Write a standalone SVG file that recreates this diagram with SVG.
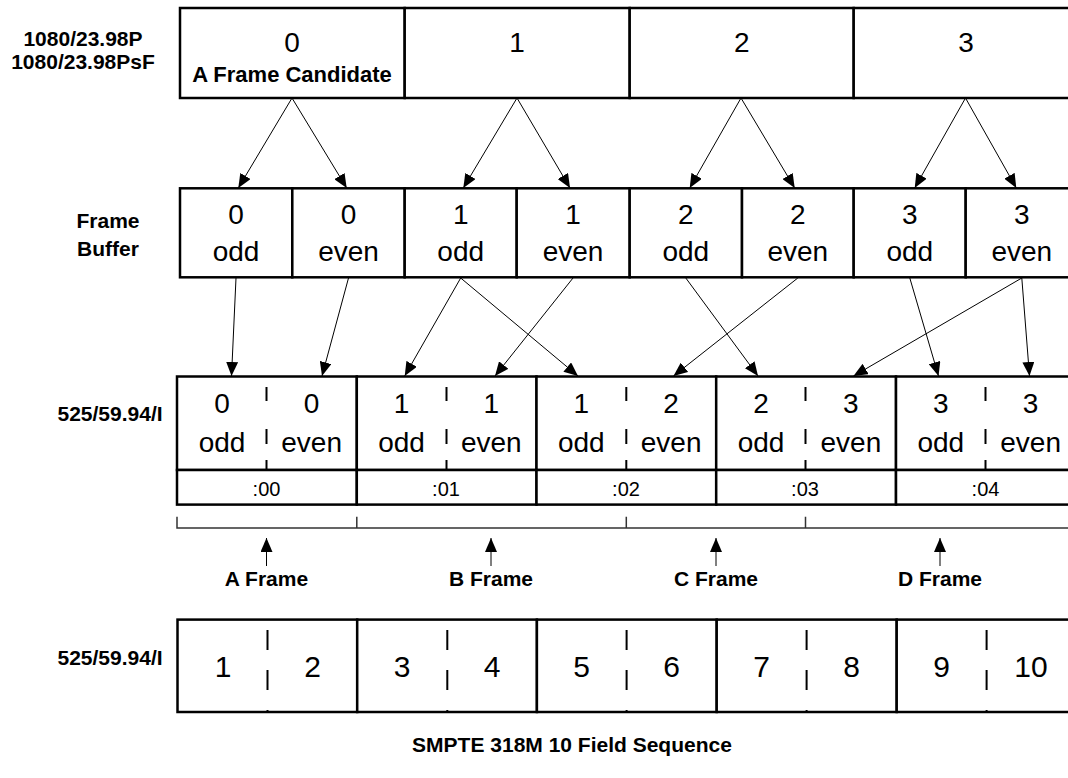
<svg xmlns="http://www.w3.org/2000/svg" width="1068" height="778" viewBox="0 0 1068 778">
<style>
text{font-family:"Liberation Sans",Arial,sans-serif;fill:#000}
.lbl{font-weight:bold;font-size:21px;text-anchor:middle}
.big{font-size:28px;text-anchor:middle}
.num{font-size:30px;text-anchor:middle}
.tc{font-size:20px;text-anchor:middle}
.cand{font-weight:bold;font-size:22px;text-anchor:middle}
.box{fill:#fff;stroke:#000;stroke-width:2.5}
.dash{stroke:#000;stroke-width:2;fill:none}
.conn{stroke:#000;stroke-width:1;fill:none;marker-end:url(#ah)}
.br{stroke:#333;stroke-width:1.5;fill:none}
</style>
<defs>
<marker id="ah" markerUnits="userSpaceOnUse" markerWidth="14" markerHeight="12" viewBox="0 0 14 12" refX="14" refY="6" orient="auto">
<path d="M0,0 L14,6 L0,12 Z" fill="#000"/>
</marker>
</defs>
<rect width="1068" height="778" fill="#fff"/>

<g id="labels">
<text class="lbl" x="83" y="46">1080/23.98P</text>
<text class="lbl" x="83" y="69">1080/23.98PsF</text>
<text class="lbl" x="108" y="228">Frame</text>
<text class="lbl" x="108" y="256">Buffer</text>
<text class="lbl" x="110" y="421">525/59.94/I</text>
<text class="lbl" x="110" y="665">525/59.94/I</text>
</g>

<g id="top-row">
<g id="t0"><rect class="box" x="180" y="8" width="224.7" height="90"/><text class="big" x="292" y="52">0</text><text class="cand" x="292" y="81.5">A Frame Candidate</text></g>
<g id="t1"><rect class="box" x="404.7" y="8" width="225" height="90"/><text class="big" x="517" y="52">1</text></g>
<g id="t2"><rect class="box" x="629.7" y="8" width="224" height="90"/><text class="big" x="741.7" y="52">2</text></g>
<g id="t3"><rect class="box" x="853.7" y="8" width="224" height="90"/><text class="big" x="966" y="52">3</text></g>
</g>

<g id="frame-buffer">
<g id="fb0o"><rect class="box" x="180" y="188.3" width="112.3" height="89"/><text class="big" x="236" y="224">0</text><text class="big" x="236" y="260.5">odd</text></g>
<g id="fb0e"><rect class="box" x="292.3" y="188.3" width="112.4" height="89"/><text class="big" x="348.5" y="224">0</text><text class="big" x="348.5" y="260.5">even</text></g>
<g id="fb1o"><rect class="box" x="404.7" y="188.3" width="112" height="89"/><text class="big" x="460.7" y="224">1</text><text class="big" x="460.7" y="260.5">odd</text></g>
<g id="fb1e"><rect class="box" x="516.7" y="188.3" width="113" height="89"/><text class="big" x="573" y="224">1</text><text class="big" x="573" y="260.5">even</text></g>
<g id="fb2o"><rect class="box" x="629.7" y="188.3" width="112.3" height="89"/><text class="big" x="685.8" y="224">2</text><text class="big" x="685.8" y="260.5">odd</text></g>
<g id="fb2e"><rect class="box" x="742" y="188.3" width="111.7" height="89"/><text class="big" x="797.8" y="224">2</text><text class="big" x="797.8" y="260.5">even</text></g>
<g id="fb3o"><rect class="box" x="853.7" y="188.3" width="112" height="89"/><text class="big" x="909.8" y="224">3</text><text class="big" x="909.8" y="260.5">odd</text></g>
<g id="fb3e"><rect class="box" x="965.7" y="188.3" width="112.3" height="89"/><text class="big" x="1021.8" y="224">3</text><text class="big" x="1021.8" y="260.5">even</text></g>
</g>

<g id="ntsc-row">
<g id="n0"><rect class="box" x="177" y="376.5" width="179.8" height="93.5"/><rect class="box" x="177" y="470" width="179.8" height="34.6"/>
<line class="dash" x1="266.5" y1="387" x2="266.5" y2="401"/><line class="dash" x1="266.5" y1="429" x2="266.5" y2="444"/><line class="dash" x1="266.5" y1="460" x2="266.5" y2="470"/>
<text class="big" x="222" y="413.4">0</text><text class="big" x="222" y="452.3">odd</text><text class="big" x="311.6" y="413.4">0</text><text class="big" x="311.6" y="452.3">even</text><text class="tc" x="266.5" y="496">:00</text></g>
<g id="n1"><rect class="box" x="356.8" y="376.5" width="179.7" height="93.5"/><rect class="box" x="356.8" y="470" width="179.7" height="34.6"/>
<line class="dash" x1="446.5" y1="387" x2="446.5" y2="401"/><line class="dash" x1="446.5" y1="429" x2="446.5" y2="444"/><line class="dash" x1="446.5" y1="460" x2="446.5" y2="470"/>
<text class="big" x="401.5" y="413.4">1</text><text class="big" x="401.5" y="452.3">odd</text><text class="big" x="491.3" y="413.4">1</text><text class="big" x="491.3" y="452.3">even</text><text class="tc" x="446" y="496">:01</text></g>
<g id="n2"><rect class="box" x="536.5" y="376.5" width="179.7" height="93.5"/><rect class="box" x="536.5" y="470" width="179.7" height="34.6"/>
<line class="dash" x1="626.3" y1="387" x2="626.3" y2="401"/><line class="dash" x1="626.3" y1="429" x2="626.3" y2="444"/><line class="dash" x1="626.3" y1="460" x2="626.3" y2="470"/>
<text class="big" x="581.3" y="413.4">1</text><text class="big" x="581.3" y="452.3">odd</text><text class="big" x="671.1" y="413.4">2</text><text class="big" x="671.1" y="452.3">even</text><text class="tc" x="626" y="496">:02</text></g>
<g id="n3"><rect class="box" x="716.2" y="376.5" width="179.8" height="93.5"/><rect class="box" x="716.2" y="470" width="179.8" height="34.6"/>
<line class="dash" x1="805.5" y1="387" x2="805.5" y2="401"/><line class="dash" x1="805.5" y1="429" x2="805.5" y2="444"/><line class="dash" x1="805.5" y1="460" x2="805.5" y2="470"/>
<text class="big" x="761" y="413.4">2</text><text class="big" x="761" y="452.3">odd</text><text class="big" x="850.9" y="413.4">3</text><text class="big" x="850.9" y="452.3">even</text><text class="tc" x="805" y="496">:03</text></g>
<g id="n4"><rect class="box" x="896" y="376.5" width="180" height="93.5"/><rect class="box" x="896" y="470" width="180" height="34.6"/>
<line class="dash" x1="985.5" y1="387" x2="985.5" y2="401"/><line class="dash" x1="985.5" y1="429" x2="985.5" y2="444"/><line class="dash" x1="985.5" y1="460" x2="985.5" y2="470"/>
<text class="big" x="940.8" y="413.4">3</text><text class="big" x="940.8" y="452.3">odd</text><text class="big" x="1030.6" y="413.4">3</text><text class="big" x="1030.6" y="452.3">even</text><text class="tc" x="985.5" y="496">:04</text></g>
</g>

<g id="bracket">
<path class="br" d="M177,516.7 V528 H1068 M356.8,516.7 V528 M626.3,516.7 V528 M805.5,516.7 V528"/>
</g>

<g id="frame-markers">
<g id="fa"><line class="conn" x1="266.5" y1="566" x2="266.5" y2="538"/><text class="lbl" x="266.5" y="586">A Frame</text></g>
<g id="fbm"><line class="conn" x1="491" y1="566" x2="491" y2="538"/><text class="lbl" x="491" y="586">B Frame</text></g>
<g id="fc"><line class="conn" x1="716" y1="566" x2="716" y2="538"/><text class="lbl" x="716" y="586">C Frame</text></g>
<g id="fd"><line class="conn" x1="940" y1="566" x2="940" y2="538"/><text class="lbl" x="940" y="586">D Frame</text></g>
</g>

<g id="field-row">
<g id="f12"><rect class="box" x="177.5" y="619.6" width="179.7" height="92.4"/><line class="dash" x1="267.5" y1="630" x2="267.5" y2="712" stroke-dasharray="20 20"/><text class="num" x="223" y="677">1</text><text class="num" x="312.5" y="677">2</text></g>
<g id="f34"><rect class="box" x="357.2" y="619.6" width="179.7" height="92.4"/><line class="dash" x1="447.3" y1="630" x2="447.3" y2="712" stroke-dasharray="20 20"/><text class="num" x="402" y="677">3</text><text class="num" x="492" y="677">4</text></g>
<g id="f56"><rect class="box" x="536.9" y="619.6" width="179.8" height="92.4"/><line class="dash" x1="626.6" y1="630" x2="626.6" y2="712" stroke-dasharray="20 20"/><text class="num" x="581.5" y="677">5</text><text class="num" x="671.5" y="677">6</text></g>
<g id="f78"><rect class="box" x="716.7" y="619.6" width="180" height="92.4"/><line class="dash" x1="806.6" y1="630" x2="806.6" y2="712" stroke-dasharray="20 20"/><text class="num" x="761.5" y="677">7</text><text class="num" x="851.5" y="677">8</text></g>
<g id="f910"><rect class="box" x="896.7" y="619.6" width="180" height="92.4"/><line class="dash" x1="986.6" y1="630" x2="986.6" y2="712" stroke-dasharray="20 20"/><text class="num" x="941.5" y="677">9</text><text class="num" x="1031" y="677">10</text></g>
</g>

<g id="connectors">
<line class="conn" x1="292" y1="98" x2="238.3" y2="188"/>
<line class="conn" x1="292" y1="98" x2="346.7" y2="188"/>
<line class="conn" x1="517" y1="98" x2="463.3" y2="188"/>
<line class="conn" x1="517" y1="98" x2="570" y2="188"/>
<line class="conn" x1="741" y1="98" x2="689.7" y2="188"/>
<line class="conn" x1="741" y1="98" x2="794.7" y2="188"/>
<line class="conn" x1="965.5" y1="98" x2="914.7" y2="188"/>
<line class="conn" x1="965.5" y1="98" x2="1016.3" y2="188"/>
<line class="conn" x1="236" y1="278" x2="231.5" y2="376"/>
<line class="conn" x1="348.5" y1="278" x2="322" y2="376"/>
<line class="conn" x1="460.7" y1="278" x2="404.7" y2="376"/>
<line class="conn" x1="460.7" y1="278" x2="578" y2="376"/>
<line class="conn" x1="573" y1="278" x2="495" y2="376"/>
<line class="conn" x1="685.8" y1="278" x2="758" y2="376"/>
<line class="conn" x1="797.8" y1="278" x2="673.5" y2="376"/>
<line class="conn" x1="909.8" y1="278" x2="938.5" y2="376"/>
<line class="conn" x1="1021.8" y1="278" x2="853.5" y2="376"/>
<line class="conn" x1="1021.8" y1="278" x2="1029.5" y2="376"/>
</g>

<text class="lbl" x="572" y="752">SMPTE 318M 10 Field Sequence</text>
</svg>
